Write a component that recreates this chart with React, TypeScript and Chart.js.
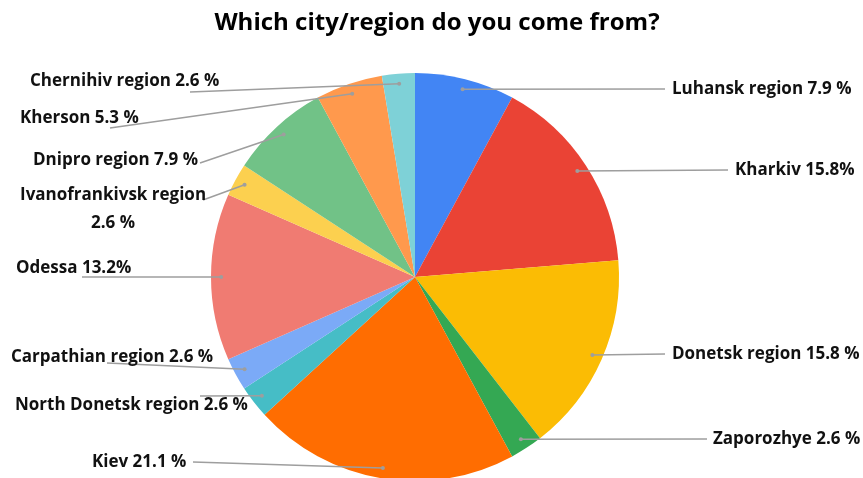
import React, { useEffect, useRef } from "react";
import { Chart, registerables } from "chart.js";

Chart.register(...registerables);

const title = "Which city/region do you come from?";
const categories = [
  "Luhansk region", "Kharkiv", "Donetsk region", "Zaporozhye", "Kiev",
  "North Donetsk region", "Carpathian region", "Odessa", "Ivanofrankivsk region",
  "Dnipro region", "Kherson", "Chernihiv region",
];
const values = [7.9, 15.8, 15.8, 2.6, 21.1, 2.6, 2.6, 13.2, 2.6, 7.9, 5.3, 2.6];
const labelTexts = [
  ["Luhansk region 7.9 %"], ["Kharkiv 15.8%"], ["Donetsk region 15.8 %"], ["Zaporozhye 2.6 %"],
  ["Kiev 21.1 %"], ["North Donetsk region 2.6 %"], ["Carpathian region 2.6 %"], ["Odessa 13.2%"],
  ["Ivanofrankivsk region", "2.6 %"], ["Dnipro region 7.9 %"], ["Kherson 5.3 %"], ["Chernihiv region 2.6 %"],
];
const colors = [
  "#4285F4", "#EA4335", "#FBBC04", "#34A853", "#FF6D01", "#46BDC6",
  "#7BAAF7", "#F07B72", "#FCD04F", "#71C287", "#FF994D", "#7ED1D7",
];

// annotation layout: text left x, text center y, leader end x, leader end y
const labelLayout = [
  { tx: 672, ty: 89, lx: 665, ly: 89 },
  { tx: 735, ty: 170, lx: 728, ly: 170 },
  { tx: 672, ty: 354, lx: 665, ly: 354 },
  { tx: 713, ty: 439, lx: 707, ly: 439 },
  { tx: 92, ty: 462, lx: 193, ly: 462 },
  { tx: 15, ty: 405, lx: 200, ly: 396 },
  { tx: 11, ty: 357, lx: 107, ly: 363 },
  { tx: 16, ty: 268, lx: 82, ly: 277 },
  { tx: 20, ty: 195, lx: 203, ly: 200 },
  { tx: 33, ty: 160, lx: 200, ly: 163 },
  { tx: 20, ty: 118, lx: 110, ly: 128 },
  { tx: 30, ty: 81, lx: 190, ly: 92 },
];

const FONT = "'Open Sans', Lato, sans-serif";

const labelPlugin = {
  id: "leaderLabels",
  afterDraw(chart: any) {
    const ctx = chart.ctx;
    const meta = chart.getDatasetMeta(0);
    ctx.save();
    // title
    ctx.fillStyle = "#000";
    ctx.font = `bold 24px ${FONT}`;
    ctx.textAlign = "center";
    ctx.textBaseline = "middle";
    ctx.fillText(title, 437, 23);

    meta.data.forEach((arc: any, i: number) => {
      const { x, y, startAngle, endAngle, outerRadius } = arc.getProps(
        ["x", "y", "startAngle", "endAngle", "outerRadius"], true);
      const mid = (startAngle + endAngle) / 2;
      const r = outerRadius * 0.95;
      const dx = x + Math.cos(mid) * r;
      const dy = y + Math.sin(mid) * r;
      const L = labelLayout[i];
      ctx.strokeStyle = "#9e9e9e";
      ctx.lineWidth = 1.5;
      ctx.beginPath();
      ctx.moveTo(dx, dy);
      ctx.lineTo(L.lx, L.ly);
      ctx.stroke();
      ctx.fillStyle = "#9e9e9e";
      ctx.beginPath();
      ctx.arc(dx, dy, 2, 0, Math.PI * 2);
      ctx.fill();

      ctx.fillStyle = "#111";
      ctx.font = `bold 17px ${FONT}`;
      ctx.textBaseline = "middle";
      const lines = labelTexts[i];
      const w0 = ctx.measureText(lines[0]).width;
      lines.forEach((t: string, k: number) => {
        if (k === 0) {
          ctx.textAlign = "left";
          ctx.fillText(t, L.tx, L.ty);
        } else {
          ctx.textAlign = "center";
          ctx.fillText(t, L.tx + w0 / 2, L.ty + 28 * k);
        }
      });
    });
    ctx.restore();
  },
};

export default function App() {
  const ref = useRef<HTMLCanvasElement | null>(null);
  useEffect(() => {
    if (!ref.current) return;
    const chart = new Chart(ref.current, {
      type: "pie",
      data: {
        labels: categories,
        datasets: [{ data: values, backgroundColor: colors, borderWidth: 0 }],
      },
      options: {
        responsive: false,
        animation: false,
        devicePixelRatio: 1,
        layout: { padding: { top: 73, bottom: 19, left: 0, right: 33 } },
        plugins: { legend: { display: false }, tooltip: { enabled: false }, title: { display: false } },
      },
      plugins: [labelPlugin],
    });
    return () => chart.destroy();
  }, []);
  return (
    <div style={{ position: "fixed", left: 0, top: 0, width: 863, height: 478, overflow: "hidden", background: "#fff" }}>
      <canvas ref={ref} width={863} height={500} style={{ display: "block" }} />
    </div>
  );
}
